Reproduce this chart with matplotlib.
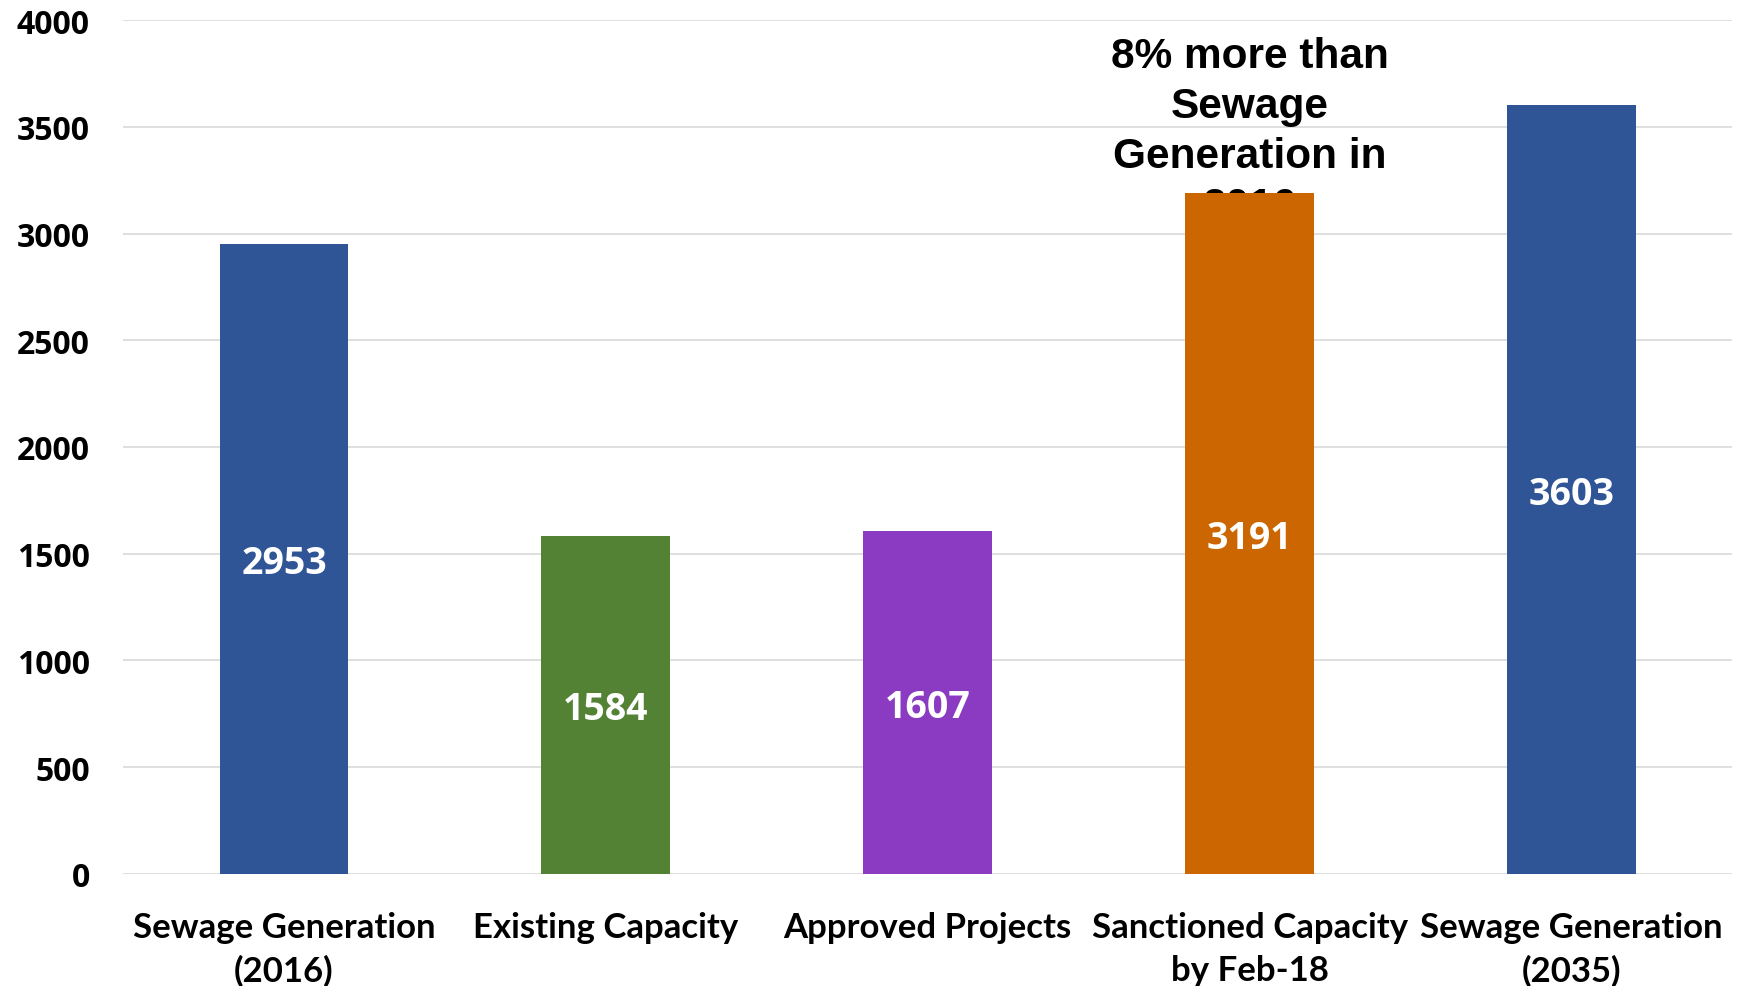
import matplotlib.pyplot as plt

categories = ["Sewage Generation\n(2016)", "Existing Capacity", "Approved Projects",
              "Sanctioned Capacity\nby Feb-18", "Sewage Generation\n(2035)"]
values = [2953, 1584, 1607, 3191, 3603]
colors = ["#2F5597", "#548235", "#8A3BC2", "#CC6600", "#2F5597"]
yticks = [0, 500, 1000, 1500, 2000, 2500, 3000, 3500, 4000]
note = "8% more than\nSewage\nGeneration in\n2016"

fig = plt.figure(figsize=(17.38, 9.87), dpi=100)
ax = fig.add_axes([0.0708, 0.1135, 0.926, 0.8652])

x = range(len(values))
bars = ax.bar(x, values, width=0.4, color=colors, zorder=2)

for i, v in enumerate(values):
    ax.text(i, v / 2, str(v), ha="center", va="center_baseline", color="white",
            fontsize=27, fontweight="bold", family="Open Sans", zorder=3)

# note sits behind the sanctioned-capacity bar
ax.text(3, 3480, note, ha="center", va="center", fontsize=30.5, fontweight="bold",
        family="Liberation Sans", linespacing=1.32, zorder=1)

ax.set_xlim(-0.5, 4.5)
ax.set_ylim(0, 4000)
ax.set_yticks(yticks)
ax.set_xticks(list(x))
ax.set_xticklabels(categories, fontsize=25, fontweight="bold", family="Lato",
                   linespacing=1.4)
for lbl in ax.get_yticklabels():
    lbl.set_fontsize(23)
    lbl.set_fontweight("bold")
    lbl.set_family("Open Sans")

ax.grid(axis="y", color="#D9D9D9", linewidth=1.2, zorder=0)
ax.set_axisbelow(True)
for s in ax.spines.values():
    s.set_visible(False)
ax.tick_params(axis="both", length=0)
ax.tick_params(axis="y", pad=24)
ax.tick_params(axis="x", pad=27)

fig.savefig("out.png", dpi=100)
